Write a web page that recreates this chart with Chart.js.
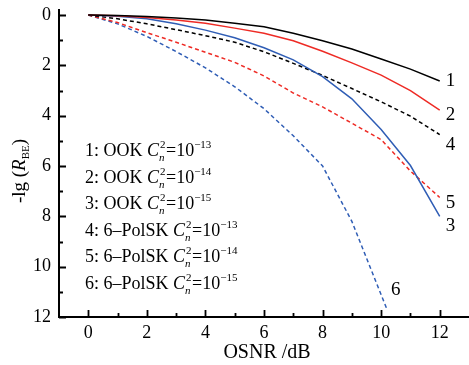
<!DOCTYPE html>
<html lang="en">
<head>
  <meta charset="UTF-8">
  <title>-lg(RBE) vs OSNR</title>
  <script src="https://cdn.jsdelivr.net/npm/chart.js"></script>
  <style>
    html, body { margin: 0; padding: 0; background: #fff; }
    #chart_box { position: relative; width: 469px; height: 365px; }
  </style>
</head>
<body>
  <div id="chart_box">
    <canvas id="myChart" width="469" height="365"></canvas>
  </div>
  <script>
    // data
    const osnr   = [0, 1, 2, 3, 4, 5, 6, 7, 8, 9, 10, 11, 12];
    const osnr6  = [0, 1, 2, 3, 4, 5, 6, 7, 8, 9, 10.2];
    const ook13  = [0, 0.02, 0.06, 0.12, 0.20, 0.33, 0.47, 0.72, 1.02, 1.35, 1.75, 2.15, 2.62];
    const ook14  = [0, 0.03, 0.10, 0.20, 0.33, 0.52, 0.72, 1.02, 1.44, 1.90, 2.39, 3.00, 3.78];
    const ook15  = [0, 0.05, 0.15, 0.35, 0.60, 0.90, 1.30, 1.78, 2.45, 3.33, 4.55, 5.98, 8.00];
    const pol13  = [0, 0.15, 0.35, 0.58, 0.82, 1.08, 1.46, 1.92, 2.40, 2.92, 3.45, 4.02, 4.75];
    const pol14  = [0, 0.30, 0.70, 1.08, 1.48, 1.88, 2.42, 3.10, 3.65, 4.30, 4.95, 6.20, 7.25];
    const pol15  = [0, 0.35, 0.85, 1.45, 2.10, 2.85, 3.72, 4.80, 6.00, 8.20, 11.70];

    // tick values
    const xTicks = [0, 2, 4, 6, 8, 10, 12];
    const yTicks = [0, 2, 4, 6, 8, 10, 12];
    const minorTicks = [1, 3, 5, 7, 9, 11];

    // legend text
    const legendIds  = ['1', '2', '3', '4', '5', '6'];
    const legendSys  = ['OOK', 'OOK', 'OOK', '6\u2013PolSK', '6\u2013PolSK', '6\u2013PolSK'];
    const legendExps = ['\u221213', '\u221214', '\u221215', '\u221213', '\u221214', '\u221215'];

    const SERIF = '"Liberation Serif", "Times New Roman", serif';
    const BLACK = '#000000', RED = '#ee2b25', BLUE = '#2f5db5';

    function pts(xs, ys) { return xs.map((v, i) => ({ x: v, y: ys[i] })); }
    function line(label, xs, ys, color, dashed) {
      return {
        label: label,
        data: pts(xs, ys),
        borderColor: color,
        borderWidth: 1.5,
        borderDash: dashed ? [4, 3] : [],
        pointRadius: 0,
        fill: false,
        tension: 0
      };
    }

    // end labels next to each curve: [dx, dy] from last point
    const endOffsets = [[6, 0], [6, 5], [6, 10], [6, 10], [6, 6], [4, -19]];

    const decor = {
      id: 'decor',
      afterDraw(chart) {
        const ctx = chart.ctx;
        const x = chart.scales.x, y = chart.scales.y;
        const left = chart.chartArea.left, bottom = chart.chartArea.bottom;
        ctx.save();

        // inward tick marks
        ctx.strokeStyle = '#000';
        ctx.lineWidth = 1.8;
        ctx.beginPath();
        const all = xTicks.map(v => [v, 7]).concat(minorTicks.map(v => [v, 4]));
        all.forEach(([v, len]) => {
          const px = Math.round(x.getPixelForValue(v)) + 0.5;
          ctx.moveTo(px, bottom); ctx.lineTo(px, bottom - len);
          const py = Math.round(y.getPixelForValue(v)) + 0.5;
          ctx.moveTo(left, py); ctx.lineTo(left + len, py);
        });
        ctx.stroke();

        ctx.fillStyle = '#000';
        ctx.textAlign = 'left';

        // end labels
        ctx.font = '19px ' + SERIF;
        ctx.textBaseline = 'middle';
        chart.data.datasets.forEach((ds, i) => {
          const last = ds.data[ds.data.length - 1];
          const px = x.getPixelForValue(last.x) + endOffsets[i][0];
          const py = y.getPixelForValue(last.y) + endOffsets[i][1];
          ctx.fillText(legendIds[i], px, py);
        });
        ctx.textBaseline = 'alphabetic';

        // legend block
        legendIds.forEach((id, i) => {
          const base = 156 + i * 26.5;
          let cx = 85;
          ctx.font = '18px ' + SERIF;
          const t = id + ': ' + legendSys[i] + ' ';
          ctx.fillText(t, cx, base); cx += ctx.measureText(t).width;
          ctx.font = 'italic 18px ' + SERIF;
          ctx.fillText('C', cx, base); cx += ctx.measureText('C').width;
          ctx.font = '11px ' + SERIF;
          ctx.fillText('2', cx + 1, base - 8);
          ctx.font = 'italic 11px ' + SERIF;
          ctx.fillText('n', cx, base + 5);
          cx += 7;
          ctx.font = '18px ' + SERIF;
          ctx.fillText('=10', cx, base); cx += ctx.measureText('=10').width;
          ctx.font = '11px ' + SERIF;
          ctx.fillText(legendExps[i], cx, base - 8);
        });

        // x axis title
        ctx.font = '20px ' + SERIF;
        ctx.textAlign = 'center';
        ctx.fillText('OSNR /dB', 267, 358);

        // y axis title (rotated)
        ctx.translate(25, 171);
        ctx.rotate(-Math.PI / 2);
        const parts = [
          ['-lg (', '19px ' + SERIF, 0],
          ['R', 'italic 19px ' + SERIF, 0],
          ['BE', '11px ' + SERIF, 4],
          [')', '19px ' + SERIF, 0]
        ];
        let w = 0;
        parts.forEach(p => { ctx.font = p[1]; w += ctx.measureText(p[0]).width; });
        let tx = -w / 2;
        ctx.textAlign = 'left';
        parts.forEach(p => {
          ctx.font = p[1];
          ctx.fillText(p[0], tx, p[2]);
          tx += ctx.measureText(p[0]).width;
        });
        ctx.restore();
      }
    };

    const ctx = document.getElementById('myChart').getContext('2d');
    const chart = new Chart(ctx, {
      type: 'line',
      data: {
        datasets: [
          line('1', osnr, ook13, BLACK, false),
          line('2', osnr, ook14, RED, false),
          line('3', osnr, ook15, BLUE, false),
          line('4', osnr, pol13, BLACK, true),
          line('5', osnr, pol14, RED, true),
          line('6', osnr6, pol15, BLUE, true)
        ]
      },
      options: {
        responsive: false,
        animation: false,
        layout: { padding: { top: 10, left: 0, right: 0, bottom: 0 } },
        plugins: {
          legend: { display: false },
          tooltip: { enabled: false }
        },
        scales: {
          x: {
            type: 'linear',
            min: -1,
            max: 13,
            afterBuildTicks: s => { s.ticks = xTicks.map(v => ({ value: v })); },
            afterFit: s => { s.height = 48; s.paddingLeft = 0; s.paddingRight = 0; },
            grid: { display: false, drawTicks: false },
            border: { display: true, color: '#000', width: 2 },
            ticks: {
              autoSkip: false,
              maxRotation: 0,
              padding: 5,
              color: '#000',
              font: { family: SERIF, size: 18 }
            }
          },
          y: {
            type: 'linear',
            min: -0.2,
            max: 12,
            reverse: true,
            afterBuildTicks: s => { s.ticks = yTicks.map(v => ({ value: v })); },
            afterFit: s => { s.width = 59; s.paddingTop = 0; s.paddingBottom = 0; },
            grid: { display: false, drawTicks: false },
            border: { display: true, color: '#000', width: 2 },
            ticks: {
              autoSkip: false,
              padding: 8,
              color: '#000',
              font: { family: SERIF, size: 18 }
            }
          }
        }
      },
      plugins: [decor]
    });
  </script>
</body>
</html>
